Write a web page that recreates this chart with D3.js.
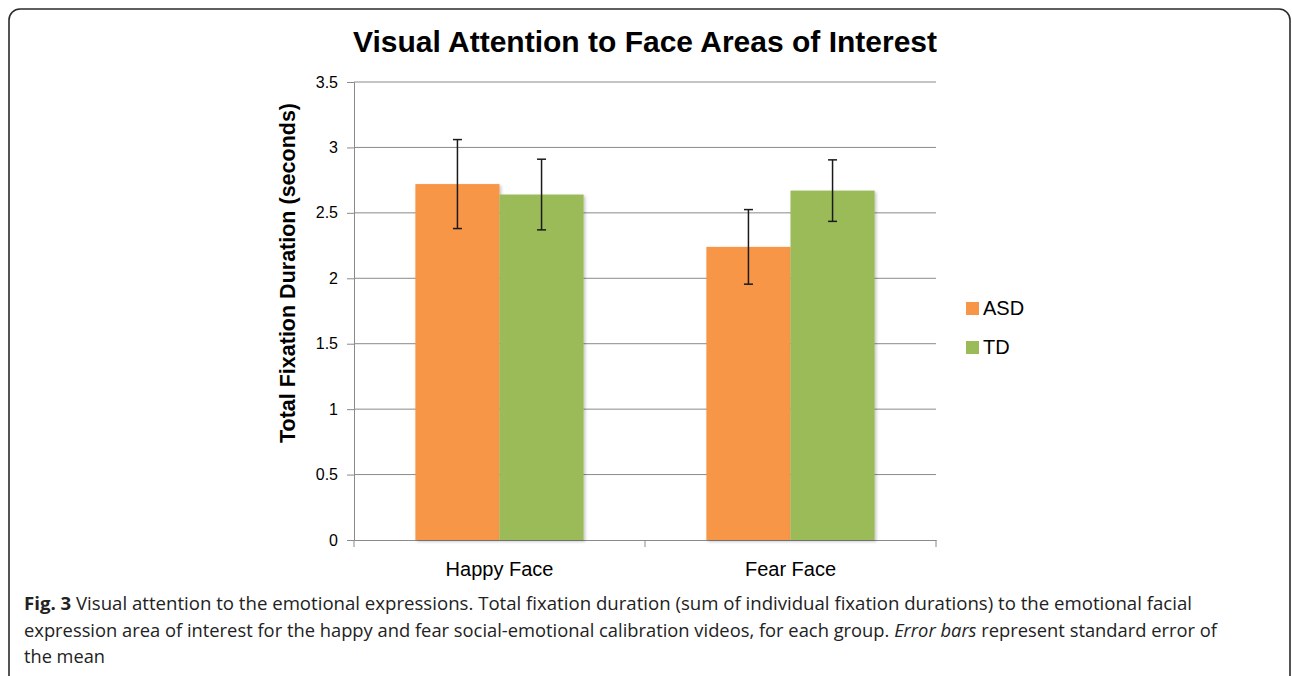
<!DOCTYPE html>
<html>
<head>
<meta charset="utf-8">
<script src="https://cdn.jsdelivr.net/npm/d3@7"></script>
<style>
  body { margin: 0; background: #fff; }
  svg { display: block; }
</style>
</head>
<body>
<svg id="chart" width="1292" height="676"></svg>
<script>
// data
const categories = ["Happy Face", "Fear Face"];
const groups = ["ASD", "TD"];
const asdMeans = [2.72, 2.24];
const tdMeans = [2.64, 2.67];
const asdErrors = [0.34, 0.285];
const tdErrors = [0.27, 0.235];
const yTicks = [0, 0.5, 1, 1.5, 2, 2.5, 3, 3.5];
const groupColors = ["#F79646", "#9BBB59"];

const captionLines = [
    { bold: "Fig. 3", rest: " Visual attention to the emotional expressions. Total fixation duration (sum of individual fixation durations) to the emotional facial", len: 1168 },
    { pre: "expression area of interest for the happy and fear social-emotional calibration videos, for each group. ", italic: "Error bars", rest: " represent standard error of", len: 1193 },
    { rest: "the mean", len: 81 }
];

const svg = d3.select("#chart");

// rounded frame round the whole figure
svg.append("rect")
    .attr("x", 9).attr("y", 9)
    .attr("width", 1281).attr("height", 720)
    .attr("rx", 11).attr("ry", 11)
    .attr("fill", "none")
    .attr("stroke", "#2b2b2b")
    .attr("stroke-width", 1.6);

const plot = { left: 354, right: 936, top: 82, bottom: 540 };

const x0 = d3.scaleBand().domain(categories).range([plot.left, plot.right]);
const x1 = d3.scaleBand().domain(groups).range([0, x0.bandwidth()]).paddingOuter(0.73);
const y = d3.scaleLinear().domain([0, 3.5]).range([plot.bottom, plot.top]);

// drop shadow for bars
const defs = svg.append("defs");
const shadow = defs.append("filter").attr("id", "shadow")
    .attr("x", "-10%").attr("y", "-10%").attr("width", "130%").attr("height", "130%");
shadow.append("feDropShadow")
    .attr("dx", 1.5).attr("dy", 1.5).attr("stdDeviation", 1.5)
    .attr("flood-color", "#000").attr("flood-opacity", 0.25);

// gridlines
svg.append("g")
    .selectAll("line")
    .data(yTicks.slice(1))
    .join("line")
    .attr("x1", plot.left).attr("x2", plot.right)
    .attr("y1", d => y(d)).attr("y2", d => y(d))
    .attr("stroke", "#8a8a8a")
    .attr("stroke-width", 1);

// y axis
const yAxis = svg.append("g")
    .attr("transform", `translate(${plot.left},0)`)
    .call(d3.axisLeft(y).tickValues(yTicks).tickSize(7).tickPadding(9).tickFormat(d3.format("")));
yAxis.select(".domain").attr("stroke", "#8a8a8a");
yAxis.selectAll(".tick line").attr("stroke", "#8a8a8a");
yAxis.selectAll(".tick text")
    .attr("font-family", "Liberation Sans, Arial, sans-serif")
    .attr("font-size", 16)
    .attr("fill", "#000");

// x axis
const xAxis = svg.append("g")
    .attr("transform", `translate(0,${plot.bottom})`)
    .call(d3.axisBottom(x0).tickSize(0).tickPadding(22));
xAxis.select(".domain").attr("stroke", "#8a8a8a");
xAxis.selectAll(".tick text")
    .attr("font-family", "Liberation Sans, Arial, sans-serif")
    .attr("font-size", 20)
    .attr("fill", "#000");
svg.append("g")
    .selectAll("line")
    .data([plot.left, (plot.left + plot.right) / 2, plot.right])
    .join("line")
    .attr("x1", d => d).attr("x2", d => d)
    .attr("y1", plot.bottom).attr("y2", plot.bottom + 7)
    .attr("stroke", "#8a8a8a");

// bars
const rows = categories.map((c, i) => ({
    cat: c,
    values: [
        { group: "ASD", mean: asdMeans[i], err: asdErrors[i] },
        { group: "TD", mean: tdMeans[i], err: tdErrors[i] }
    ]
}));
const color = d3.scaleOrdinal().domain(groups).range(groupColors);

const cat = svg.append("g")
    .selectAll("g")
    .data(rows)
    .join("g")
    .attr("transform", d => `translate(${x0(d.cat)},0)`);

cat.selectAll("rect")
    .data(d => d.values)
    .join("rect")
    .attr("x", d => x1(d.group))
    .attr("width", x1.bandwidth())
    .attr("y", d => y(d.mean))
    .attr("height", d => y(0) - y(d.mean))
    .attr("fill", d => color(d.group))
    .attr("filter", "url(#shadow)");

// error bars
const err = cat.selectAll("g.err")
    .data(d => d.values)
    .join("g")
    .attr("class", "err")
    .attr("stroke", "#1a1a1a")
    .attr("stroke-width", 1.5);
err.append("line")
    .attr("x1", d => x1(d.group) + x1.bandwidth() / 2)
    .attr("x2", d => x1(d.group) + x1.bandwidth() / 2)
    .attr("y1", d => y(d.mean + d.err))
    .attr("y2", d => y(d.mean - d.err));
err.selectAll("line.cap")
    .data(d => [{ d, v: d.mean + d.err }, { d, v: d.mean - d.err }])
    .join("line")
    .attr("class", "cap")
    .attr("x1", e => x1(e.d.group) + x1.bandwidth() / 2 - 4.5)
    .attr("x2", e => x1(e.d.group) + x1.bandwidth() / 2 + 4.5)
    .attr("y1", e => y(e.v))
    .attr("y2", e => y(e.v));

// title
svg.append("text")
    .attr("x", 645).attr("y", 52)
    .attr("text-anchor", "middle")
    .attr("font-family", "Liberation Sans, Arial, sans-serif")
    .attr("font-weight", "bold")
    .attr("font-size", 30)
    .text("Visual Attention to Face Areas of Interest");

// y axis title
svg.append("text")
    .attr("transform", "translate(295,273) rotate(-90)")
    .attr("text-anchor", "middle")
    .attr("font-family", "Liberation Sans, Arial, sans-serif")
    .attr("font-weight", "bold")
    .attr("font-size", 21.5)
    .text("Total Fixation Duration (seconds)");

// legend
const legend = svg.append("g")
    .selectAll("g")
    .data(groups)
    .join("g")
    .attr("transform", (d, i) => `translate(966,${302 + i * 39})`);
legend.append("rect")
    .attr("width", 13).attr("height", 13)
    .attr("fill", d => color(d));
legend.append("text")
    .attr("x", 17).attr("y", 13)
    .attr("font-family", "Liberation Sans, Arial, sans-serif")
    .attr("font-size", 20)
    .text(d => d);

// caption
const cap = svg.append("g")
    .attr("font-family", "Open Sans, sans-serif")
    .attr("font-size", 18)
    .attr("fill", "#222");
captionLines.forEach((ln, i) => {
    const t = cap.append("text")
        .attr("x", 24)
        .attr("y", 610 + i * 26.5);
    if (ln.len) t.attr("textLength", ln.len).attr("lengthAdjust", "spacingAndGlyphs");
    if (ln.bold) t.append("tspan").attr("font-weight", "bold").text(ln.bold);
    if (ln.pre) t.append("tspan").text(ln.pre);
    if (ln.italic) t.append("tspan").attr("font-style", "italic").text(ln.italic);
    t.append("tspan").text(ln.rest);
});
</script>
</body>
</html>
